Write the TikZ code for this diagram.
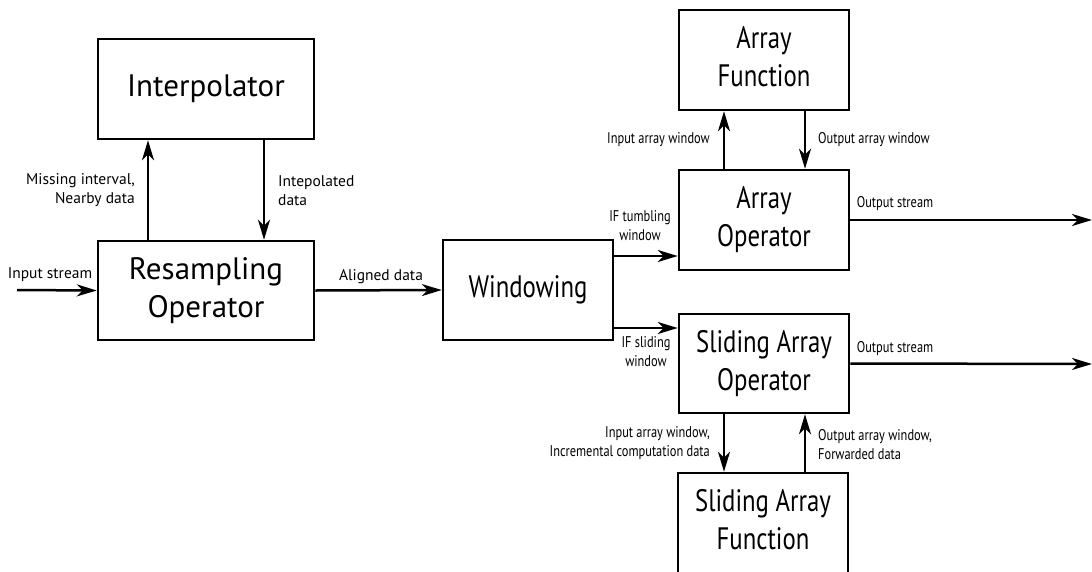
\documentclass[tikz,border=0pt]{standalone}
\usepackage{fontspec}
\usepackage{graphicx}
\setmainfont{PT Sans}
\usetikzlibrary{arrows.meta}
\newcommand\cnd[2]{\scalebox{0.8}[1]{\begin{tabular}{@{}#1@{}}#2\end{tabular}}}
\tikzset{
  box/.style={draw, line width=2.5pt, align=center, inner sep=0pt,
    font=\fontsize{31}{38}\selectfont},
  arr/.style={line width=2.5pt, -{Stealth[length=20pt,width=12pt,inset=6pt]}},
  lbl/.style={font=\fontsize{15.5}{19}\selectfont, inner sep=0pt},
}
\begin{document}
\begin{tikzpicture}[x=1pt,y=-1pt]
\useasboundingbox (0,0) rectangle (1092,571);
% boxes
\node[box, minimum width=216pt, minimum height=100pt] (int) at (206,89) {Interpolator};
\node[box, minimum width=216pt, minimum height=99pt] (res) at (206,290.5) {Resampling\\Operator};
\node[box, minimum width=170pt, minimum height=100pt] (win) at (528,290) {\cnd{c}{Windowing}};
\node[box, minimum width=170pt, minimum height=100pt] (afn) at (764,60) {\cnd{c}{Array\\Function}};
\node[box, minimum width=170pt, minimum height=100pt] (aop) at (764,220) {\cnd{c}{Array\\Operator}};
\node[box, minimum width=170pt, minimum height=99pt] (sop) at (764,363.5) {\cnd{c}{Sliding Array\\Operator}};
\node[box, minimum width=170pt, minimum height=100pt] (sfn) at (763,523) {\cnd{c}{Sliding Array\\Function}};
% free ends
\coordinate (in) at (17,290);
\coordinate (out1) at (1092,220);
\coordinate (out2) at (1092,364);
% connectors
\draw[arr] (in) -- (res.west);
\draw[arr] (res.east) -- (win.west);
\draw[arr] ([xshift=-58pt]res.north) -- ([xshift=-58pt]int.south);
\draw[arr] ([xshift=58pt]int.south) -- ([xshift=58pt]res.north);
\draw[arr] ([yshift=34pt]win.east) -- ([yshift=-36pt]aop.west);
\draw[arr] ([yshift=-38pt]win.east) -- ([yshift=35.5pt]sop.west);
\draw[arr] ([xshift=-40pt]aop.north) -- ([xshift=-40pt]afn.south);
\draw[arr] ([xshift=41pt]afn.south) -- ([xshift=41pt]aop.north);
\draw[arr] ([xshift=-40pt]sop.south) -- ([xshift=-39pt]sfn.north);
\draw[arr] ([xshift=42pt]sfn.north) -- ([xshift=41pt]sop.south);
\draw[arr] (aop.east) -- (out1);
\draw[arr] (sop.east) -- (out2);
% labels
\node[lbl] (l1) at (50,275) {Input stream};
\node[lbl] (l2) at (381,277) {Aligned data};
\node[lbl, anchor=east, align=right] (l3) at (135,190) {Missing interval,\\Nearby data};
\node[lbl, anchor=west, align=left] (l4) at (278,191) {Intepolated\\data};
\node[lbl, anchor=east] (l5) at (710,140) {\cnd{r}{Input array window}};
\node[lbl, anchor=west] (l6) at (818,140) {\cnd{l}{Output array window}};
\node[lbl] (l7) at (640,227) {\cnd{c}{IF tumbling\\window}};
\node[lbl] (l8) at (646,353) {\cnd{c}{IF sliding\\window}};
\node[lbl] (l9) at (895,204) {\cnd{c}{Output stream}};
\node[lbl] (l10) at (895,349) {\cnd{c}{Output stream}};
\node[lbl, anchor=east] (l11) at (710,443) {\cnd{r}{Input array window,\\Incremental computation data}};
\node[lbl, anchor=west] (l12) at (818,446) {\cnd{l}{Output array window,\\Forwarded data}};
\end{tikzpicture}
\end{document}
